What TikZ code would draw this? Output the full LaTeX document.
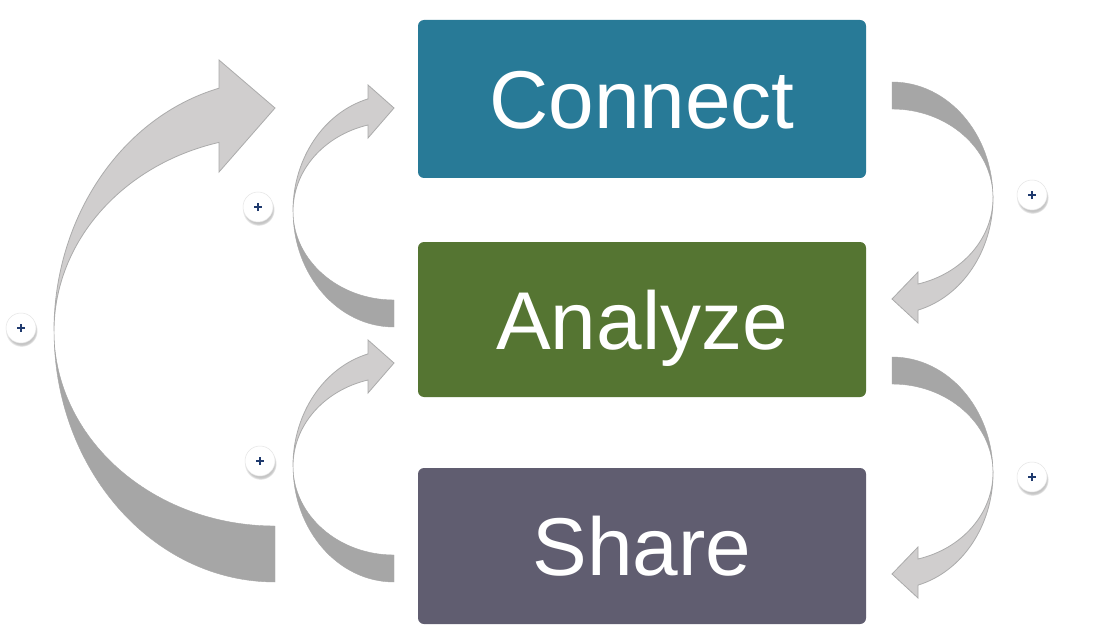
\documentclass[tikz,border=0pt]{standalone}
\usepackage{fontspec}
\setmainfont{Liberation Sans}
\usetikzlibrary{shadows,fadings}
\definecolor{cblue}{HTML}{287A97}
\definecolor{cgreen}{HTML}{557532}
\definecolor{cpurple}{HTML}{605D70}
\definecolor{adark}{HTML}{A6A6A6}
\definecolor{alight}{HTML}{D0CECE}
\definecolor{aedge}{HTML}{ABABAB}
\definecolor{navy}{HTML}{1F3A6E}
\begin{document}
\begin{tikzpicture}[x=1pt,y=1pt,
  box/.style={rounded corners=6pt, minimum width=448pt, inner sep=0pt,
    text=white, font=\fontsize{82}{98}\selectfont, text height=59pt, text depth=0pt},
  darkpart/.style={fill=adark, draw=adark, line width=0.4pt},
  lightpart/.style={fill=alight, draw=aedge, line width=0.8pt, line join=miter},
  plusbtn/.style={circle, fill=white, draw=black!10, line width=0.5pt, minimum size=30pt, inner sep=0pt,
    circular drop shadow={shadow xshift=0.5pt, shadow yshift=-2.5pt, opacity=0.45, shadow scale=1.08},
    path picture={\draw[navy, line width=2.1pt]
      ([xshift=-4pt]path picture bounding box.center) -- ([xshift=4pt]path picture bounding box.center)
      ([yshift=-4.2pt]path picture bounding box.center) -- ([yshift=4.2pt]path picture bounding box.center);}},
]
\useasboundingbox[fill=white] (0,0) rectangle (1099,-639);

% boxes
\node[box, fill=cblue, minimum height=158pt] (conn) at (642,-99) {Connect};
\node[box, fill=cgreen, minimum height=155pt] (anal) at (642,-319.5) {Analyze};
\node[box, fill=cpurple, minimum height=156pt] (shar) at (642,-546) {Share};

% right arrow: Connect -> Analyze
\path[darkpart] (892,-82) arc[start angle=90,end angle=0,x radius=101,y radius=116]
  arc[start angle=0,end angle=90,x radius=101,y radius=89] -- cycle;
\path[lightpart] (993,-198) arc[start angle=0,end angle=-75.08,x radius=101,y radius=89]
  -- (918,-272) -- (892,-299) -- (918,-323) -- (918,-310.1)
  arc[start angle=-75.08,end angle=0,x radius=101,y radius=116] -- cycle;

% right arrow: Analyze -> Share
\begin{scope}[yshift=-275pt]
\path[darkpart] (892,-82) arc[start angle=90,end angle=0,x radius=101,y radius=116]
  arc[start angle=0,end angle=90,x radius=101,y radius=89] -- cycle;
\path[lightpart] (993,-198) arc[start angle=0,end angle=-75.08,x radius=101,y radius=89]
  -- (918,-272) -- (892,-299) -- (918,-323) -- (918,-310.1)
  arc[start angle=-75.08,end angle=0,x radius=101,y radius=116] -- cycle;
\end{scope}

% left small arrow: Analyze -> Connect
\path[darkpart] (394,-327) arc[start angle=270,end angle=180,x radius=101,y radius=116]
  arc[start angle=180,end angle=270,x radius=101,y radius=89] -- cycle;
\path[lightpart] (293,-211) arc[start angle=180,end angle=104.92,x radius=101,y radius=116]
  -- (368,-85) -- (394,-108) -- (368,-138) -- (368,-125)
  arc[start angle=104.92,end angle=180,x radius=101,y radius=89] -- cycle;

% left small arrow: Share -> Analyze
\begin{scope}[yshift=-255pt]
\path[darkpart] (394,-327) arc[start angle=270,end angle=180,x radius=101,y radius=116]
  arc[start angle=180,end angle=270,x radius=101,y radius=89] -- cycle;
\path[lightpart] (293,-211) arc[start angle=180,end angle=104.92,x radius=101,y radius=116]
  -- (368,-85) -- (394,-108) -- (368,-138) -- (368,-125)
  arc[start angle=104.92,end angle=180,x radius=101,y radius=89] -- cycle;
\end{scope}

% big left arrow: Share -> Connect
\path[darkpart] (275,-582) arc[start angle=270,end angle=180,x radius=221,y radius=251]
  arc[start angle=180,end angle=270,x radius=221,y radius=195] -- cycle;
\path[lightpart] (54,-331) arc[start angle=180,end angle=104.68,x radius=221,y radius=251]
  -- (219,-60) -- (275,-108) -- (219,-172) -- (219,-142.4)
  arc[start angle=104.68,end angle=180,x radius=221,y radius=195] -- cycle;

% plus buttons
\node[plusbtn] (p1) at (1032,-195) {};
\node[plusbtn] (p2) at (1032,-477) {};
\node[plusbtn] (p3) at (258,-207) {};
\node[plusbtn] (p4) at (21,-328) {};
\node[plusbtn] (p5) at (260,-461) {};
\end{tikzpicture}
\end{document}
